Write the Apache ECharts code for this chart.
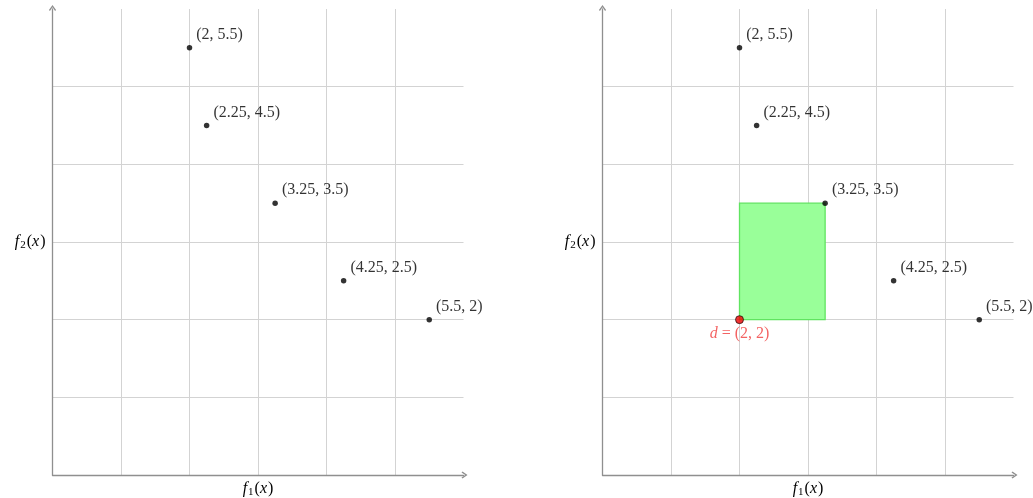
<!DOCTYPE html>
<html>
<head>
<meta charset="utf-8">
<script src="https://cdn.jsdelivr.net/npm/echarts@6/dist/echarts.min.js"></script>
<style>
html,body{margin:0;padding:0;background:#fff;}
#chart{width:1033px;height:498px;}
</style>
</head>
<body>
<div id="chart"></div>
<script>
// ---- data ----
const f1Values = [2, 2.25, 3.25, 4.25, 5.5];
const f2Values = [5.5, 4.5, 3.5, 2.5, 2];
const refPoint = [2, 2];          // d
const boxCorner = [3.25, 3.5];    // dominated box corner
const axisMin = 0;
const axisMax = 6;
const axisStep = 1;
const xName = '{i|f}{s|1}{n|(}{i|x}{n|)}';
const yName = '{i|f}{s|2}{n|(}{i|x}{n|)}';

const points = f1Values.map((x, i) => [x, f2Values[i]]);

const FONT = 'Liberation Serif';
const AXIS_COLOR = '#8f8f8f';
const GRID_COLOR = '#d3d3d3';
const ARROW = 'path://M5,0 L10,7 L8.6,8.4 L5,3.2 L1.4,8.4 L0,7 Z';

const nameRich = {
  i: {fontFamily: FONT, fontStyle: 'italic', fontSize: 16, color: '#000', lineHeight: 18, verticalAlign: 'middle', padding: [0, 1, 0, 0]},
  n: {fontFamily: FONT, fontSize: 16, color: '#000', lineHeight: 18, verticalAlign: 'middle'},
  s: {fontFamily: FONT, fontSize: 11, color: '#000', lineHeight: 10, verticalAlign: 'bottom', padding: [0, 1, 0, 0]}
};

function makeAxis(idx, isX) {
  const a = {
    type: 'value',
    gridIndex: idx,
    min: axisMin,
    max: axisMax,
    interval: axisStep,
    name: isX ? xName : yName,
    nameLocation: 'middle',
    nameGap: isX ? 5 : 7,
    nameTextStyle: {rich: nameRich},
    axisLine: {
      show: true,
      onZero: false,
      lineStyle: {color: AXIS_COLOR, width: 1.3},
      symbol: ['none', ARROW],
      symbolSize: [8, 6],
      symbolOffset: [0, 1]
    },
    axisTick: {show: false},
    axisLabel: {show: false},
    splitLine: {
      show: true,
      showMinLine: false,
      showMaxLine: false,
      lineStyle: {color: GRID_COLOR, width: 1}
    }
  };
  if (!isX) a.nameRotate = 0;
  return a;
}

const pointLabel = {
  show: true,
  position: 'right',
  distance: 4,
  offset: [0, -13],
  fontFamily: FONT,
  fontSize: 16,
  color: '#000',
  formatter: p => '(' + p.value[0] + ', ' + p.value[1] + ')'
};

const option = {
  animation: false,
  backgroundColor: '#fff',
  grid: [
    {left: 52.5, top: 9, width: 411, height: 466, outerBoundsMode: 'none', containLabel: false},
    {left: 602.5, top: 9, width: 411, height: 466, outerBoundsMode: 'none', containLabel: false}
  ],
  xAxis: [makeAxis(0, true), makeAxis(1, true)],
  yAxis: [makeAxis(0, false), makeAxis(1, false)],
  series: [
    {
      type: 'scatter',
      xAxisIndex: 0, yAxisIndex: 0,
      data: points,
      symbolSize: 5.5,
      itemStyle: {color: '#000'},
      label: pointLabel,
      silent: true
    },
    {
      type: 'scatter',
      xAxisIndex: 1, yAxisIndex: 1,
      data: points,
      symbolSize: 5.5,
      itemStyle: {color: '#000'},
      label: pointLabel,
      silent: true,
      z: 3,
      markArea: {
        silent: true,
        itemStyle: {color: 'rgb(153,255,153)', borderColor: 'rgb(96,228,96)', borderWidth: 1.3},
        label: {show: false},
        data: [[{coord: refPoint}, {coord: boxCorner}]]
      }
    },
    {
      type: 'scatter',
      xAxisIndex: 1, yAxisIndex: 1,
      data: [refPoint],
      symbolSize: 8,
      z: 4,
      itemStyle: {color: '#f00000', borderColor: '#000', borderWidth: 0.8},
      silent: true,
      label: {
        show: true,
        position: 'bottom',
        distance: 2,
        fontFamily: FONT,
        fontSize: 16,
        color: '#f03c3c',
        formatter: p => '{i|d} = (' + p.value[0] + ', ' + p.value[1] + ')',
        rich: {i: {fontFamily: FONT, fontStyle: 'italic', fontSize: 16, color: '#f03c3c'}}
      }
    }
  ]
};

const chart = echarts.init(document.getElementById('chart'), null, {renderer: 'canvas'});
chart.setOption(option);
</script>
</body>
</html>
